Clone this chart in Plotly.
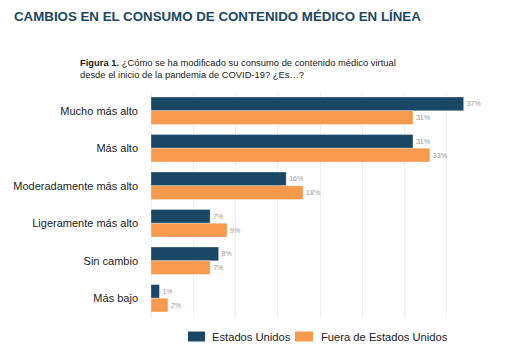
import plotly.graph_objects as go

categories = ["Mucho más alto", "Más alto", "Moderadamente más alto",
              "Ligeramente más alto", "Sin cambio", "Más bajo"]
us_values = [37, 31, 16, 7, 8, 1]
outside_values = [31, 33, 18, 9, 7, 2]
series_names = ["Estados Unidos", "Fuera de Estados Unidos"]
navy = "#1a4864"
orange = "#f79a4e"

# plot area in pixels
L, R, T, B = 151, 489, 92, 317
W, H = R - L, B - T


def px(x):
    return (x - L) / W


def py(y):
    return (B - y) / H


fig = go.Figure()
for name, vals, col in [(series_names[0], us_values, navy),
                        (series_names[1], outside_values, orange)]:
    fig.add_trace(go.Bar(
        y=categories, x=vals, name=name, orientation="h",
        marker=dict(color=col, line=dict(color="rgba(255,255,255,0.6)", width=0.5)),
        text=[f"{v}%" for v in vals], textposition="outside",
        textfont=dict(size=7, color="#9a9a9a", family="Liberation Sans"),
        cliponaxis=False, showlegend=False,
    ))

fig.update_layout(
    width=523, height=351,
    margin=dict(l=L, r=523 - R, t=T, b=351 - B),
    paper_bgcolor="white", plot_bgcolor="white",
    barmode="group", bargap=0.27, bargroupgap=0,
    font=dict(family="Liberation Sans, Arial, sans-serif", color="#222"),
    xaxis=dict(range=[0, 40], dtick=5, showticklabels=False, showgrid=True,
               gridcolor="#efefef", gridwidth=1, zeroline=True,
               zerolinecolor="#efefef", zerolinewidth=1, fixedrange=True),
    yaxis=dict(autorange="reversed", showgrid=False, ticks="",
               tickfont=dict(size=11, color="#222"), ticklabelstandoff=12),
    showlegend=False,
)

# manual legend
legend_items = [(series_names[0], navy, 188, 205, 210),
                (series_names[1], orange, 295, 313, 319)]
for name, col, x0, x1, tx in legend_items:
    fig.add_shape(type="rect", xref="paper", yref="paper",
                  x0=px(x0), x1=px(x1), y0=py(341.5), y1=py(331.5),
                  fillcolor=col, line=dict(width=0))
    fig.add_annotation(text=name, xref="paper", yref="paper",
                       x=px(tx), y=py(337), xanchor="left", yanchor="middle",
                       showarrow=False,
                       font=dict(size=11.2, color="#222", family="Liberation Sans"))

fig.add_annotation(
    text="<b>CAMBIOS EN EL CONSUMO DE CONTENIDO MÉDICO EN LÍNEA</b>",
    xref="paper", yref="paper", x=px(12), y=py(16),
    xanchor="left", yanchor="middle", showarrow=False,
    font=dict(size=13.3, color="#1a4864", family="Liberation Sans"),
)
fig.add_annotation(
    text="<b>Figura 1.</b> ¿Cómo se ha modificado su consumo de contenido médico virtual<br>desde el inicio de la pandemia de COVID-19? ¿Es…?",
    xref="paper", yref="paper", x=px(78), y=py(68),
    xanchor="left", yanchor="middle", align="left", showarrow=False,
    font=dict(size=9.4, color="#222", family="Liberation Sans"),
)

fig.write_html("out.html")
